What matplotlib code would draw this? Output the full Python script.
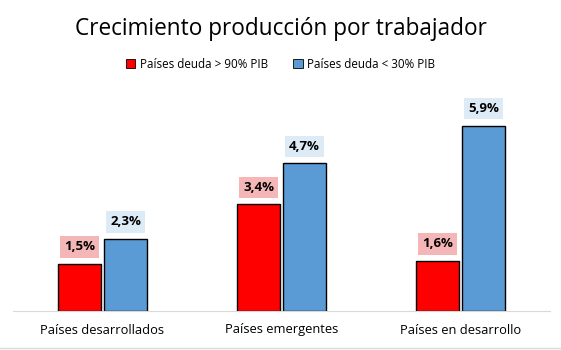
import matplotlib
matplotlib.use("Agg")
import matplotlib.pyplot as plt
from matplotlib.lines import Line2D
import numpy as np

categories = ["Países desarrollados", "Países emergentes", "Países en desarrollo"]
series_names = ["Países deuda > 90% PIB", "Países deuda < 30% PIB"]
high_debt = [1.5, 3.4, 1.6]
low_debt = [2.3, 4.7, 5.9]

plt.rcParams['font.family'] = ['Open Sans', 'DejaVu Sans']

W, H = 561, 350
fig = plt.figure(figsize=(W / 100, H / 100), dpi=100)
ax = fig.add_axes([13 / W, 1 - 311 / H, (550 - 13) / W, (311 - 91) / H])

x = np.arange(len(categories))
bw = 0.235
gap = 0.022
colors = ["#FF0000", "#5B9BD5"]
label_bg = ["#F4B6B6", "#DDEBF7"]
for i, (vals, c, bg) in enumerate(zip([high_debt, low_debt], colors, label_bg)):
    pos = x + (i - 0.5) * (bw + gap)
    ax.bar(pos, vals, width=bw, color=c, edgecolor="black", linewidth=1.0, label=series_names[i])
    for p, v in zip(pos, vals):
        ax.annotate(f"{v:.1f}%".replace(".", ","), (p, v), xytext=(0, 7.5), textcoords="offset points",
                    ha="center", va="bottom", fontsize=9.5, fontweight="bold",
                    bbox=dict(boxstyle="square,pad=0.32", fc=bg, ec="none"))

ax.set_xlim(-0.5, 2.5)
ax.set_ylim(0, 7)
ax.set_yticks([])
ax.set_xticks(x)
ax.set_xticklabels(categories, fontsize=9.3)
ax.tick_params(axis="x", length=0, pad=9)
for s in ["top", "right", "left"]:
    ax.spines[s].set_visible(False)
ax.spines["bottom"].set_color("#D9D9D9")

fig.text(0.5, 1 - 29 / H, "Crecimiento producción por trabajador", ha="center", va="center", fontsize=16.3)
handles = [plt.Rectangle((0, 0), 1, 1, fc=c, ec="black", lw=0.6) for c in colors]
fig.legend(handles, series_names, loc="center", bbox_to_anchor=(0.5, 1 - 64 / H), ncol=2,
           frameon=False, fontsize=8.4, handlelength=0.8, handleheight=0.8, columnspacing=2.2,
           handletextpad=0.4)
fig.add_artist(Line2D([0, 1], [1 - 348 / H] * 2, color="#D9D9D9", lw=1, transform=fig.transFigure))

fig.savefig("out.png", dpi=100)
